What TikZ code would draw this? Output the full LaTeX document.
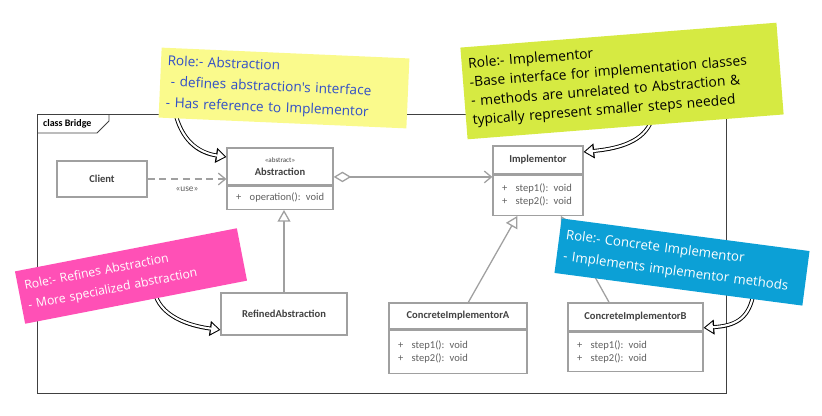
\documentclass[tikz,border=0pt]{standalone}
\usepackage{fontspec}
\setmainfont{Carlito}
\newfontfamily\notefont{Open Sans}
\usepackage{tikz}
\usetikzlibrary{arrows.meta}
\usetikzlibrary{shapes}

\definecolor{boxgray}{RGB}{160,160,160}
\definecolor{titlegray}{RGB}{66,66,66}
\definecolor{membergray}{RGB}{96,96,96}
\definecolor{noteyellow}{RGB}{250,250,140}
\definecolor{notelime}{RGB}{214,234,66}
\definecolor{notepink}{RGB}{255,80,182}
\definecolor{noteblue}{RGB}{12,160,214}
\definecolor{penblue}{RGB}{48,78,200}

\newcommand{\member}[1]{\mbox{\makebox[1.3em][l]{+}#1}}

\tikzstyle{frame} = [draw=black!75, line width=0.7pt]
\tikzstyle{classhead} = [draw=boxgray, line width=1.1pt, fill=white, inner sep=0pt, font=\fontsize{9}{11}\selectfont\bfseries, text=titlegray]
\tikzstyle{classbody} = [draw=boxgray, line width=1.1pt, fill=white, inner xsep=0.27cm, inner ysep=0pt, font=\fontsize{9}{11}\selectfont, text=membergray, align=left]
\tikzstyle{line} = [draw=boxgray, line width=1.1pt]
\tikzstyle{depend} = [line, dash pattern=on 6pt off 4pt, -{Straight Barb[length=6pt,width=10pt]}]
\tikzstyle{assoc} = [line, {Diamond[fill=white,length=15pt,width=9pt]}-{Straight Barb[length=6pt,width=10pt]}]
\tikzstyle{inherit} = [line, -{Triangle[fill=white,length=10pt,width=11pt]}]
\tikzstyle{note} = [rectangle, inner xsep=0.2cm, inner ysep=0pt, align=left]
\tikzstyle{callout} = [draw=black, line width=3.4pt, -{Triangle[length=9pt,width=13pt,line width=0pt]},
  postaction={draw=white, line width=1.8pt, shorten >=1.5pt, -{Triangle[length=6.4pt,width=9.2pt,line width=0pt,color=white]}}]

\begin{document}
\begin{tikzpicture}[x=0.03cm, y=-0.03cm]
	\tikzstyle{every node}=[font=\fontsize{9}{11}\selectfont]
	\useasboundingbox (0,0) rectangle (822,415);

	% ------------------- Frame ------------------- %
	\draw[frame] (37,114) rectangle (726,393);
	\draw[frame] (37,133) -- (97,133) -- (109,121) -- (109,114);
	\node[anchor=west, font=\fontsize{8.5}{10}\selectfont\bfseries] (framename) at (39,123.5) {class Bridge};

	% ------------------- Classes ------------------- %
	\node[classhead, minimum width=2.7cm, minimum height=1.08cm] (client) at (102,179) {Client};

	\node[classhead, minimum width=3.18cm, minimum height=1.11cm, align=center] (abstrhead) at (280,166.5) {{\fontsize{6}{7}\selectfont\mdseries «abstract»}\\Abstraction};
	\node[classbody, anchor=north, text width=2.64cm, minimum height=0.69cm] (abstrbody) at (abstrhead.south) {\member{operation(): void}};

	\node[classhead, minimum width=2.7cm, minimum height=0.84cm] (implhead) at (538,160) {Implementor};
	\node[classbody, anchor=north, text width=2.16cm, minimum height=1.2cm] (implbody) at (implhead.south) {\member{step1(): void}\\\member{step2(): void}};

	\node[classhead, minimum width=3.78cm, minimum height=1.26cm] (refined) at (284,314) {RefinedAbstraction};

	\node[classhead, minimum width=4.14cm, minimum height=0.78cm] (ciahead) at (458,316) {ConcreteImplementorA};
	\node[classbody, anchor=north, text width=3.6cm, minimum height=1.29cm] (ciabody) at (ciahead.south) {\member{step1(): void}\\\member{step2(): void}};

	\node[classhead, minimum width=4.05cm, minimum height=0.84cm] (cibhead) at (635.5,317) {ConcreteImplementorB};
	\node[classbody, anchor=north, text width=3.51cm, minimum height=1.17cm] (cibbody) at (cibhead.south) {\member{step1(): void}\\\member{step2(): void}};

	% ------------------- Relations ------------------- %
	\draw[depend] (client.east) -- (client.east -| abstrhead.west)
		node[midway, below=3pt, font=\fontsize{8}{9}\selectfont, text=membergray] (uselabel) {«use»};
	\draw[assoc] (abstrhead.-11) -- (abstrhead.-11 -| implbody.west);
	\draw[inherit] (refined.north) -- (refined.north |- abstrbody.south);
	\draw[inherit] (ciahead.53) -- (implbody.225);
	\draw[inherit] (cibhead.151) -- (implbody.-42);

	% ------------------- Callout arrows ------------------- %
	\coordinate (abtail) at (176,116);
	\coordinate (imtail) at (650,124);
	\coordinate (ratail) at (154,290);
	\coordinate (citail) at (753,296);
	\draw[callout] (abtail) .. controls +(8,28) and +(-25,-4) .. (abstrhead.170);
	\draw[callout] (imtail) .. controls +(-10,20) and +(30,-3) .. (implhead.10);
	\draw[callout] (ratail) .. controls +(5,27) and +(-30,-4) .. (refined.194);
	\draw[callout] (citail) .. controls +(-5,24) and +(30,-2) .. (cibhead.-9);

	% ------------------- Notes ------------------- %
	\node[note, fill=noteyellow, text=penblue, rotate=-2.5, minimum height=2.1cm, text width=7.04cm, font=\notefont\fontsize{11.6}{18}\selectfont] (abnote) at (284,88)
		{Role:- Abstraction\\\hspace{0.3em}- defines abstraction's interface\\- Has reference to Implementor};
	\node[note, fill=notelime, text=black, rotate=4.5, minimum height=2.76cm, text width=9.11cm, font=\notefont\fontsize{11.8}{16.2}\selectfont] (imnote) at (622,81)
		{Role:- Implementor\\-Base interface for implementation classes\\- methods are unrelated to Abstraction \&\\typically represent smaller steps needed};
	\node[note, fill=notepink, text=white, rotate=11, minimum height=1.6cm, text width=6.38cm, font=\notefont\fontsize{10.4}{17}\selectfont] (ranote) at (131,276)
		{Role:- Refines Abstraction\\- More specialized abstraction};
	\node[note, fill=noteblue, text=white, rotate=-7.5, minimum height=1.65cm, text width=7.1cm, font=\notefont\fontsize{11.3}{18.5}\selectfont] (cinote) at (682,262)
		{Role:- Concrete Implementor\\- Implements implementor methods};
\end{tikzpicture}
\end{document}
